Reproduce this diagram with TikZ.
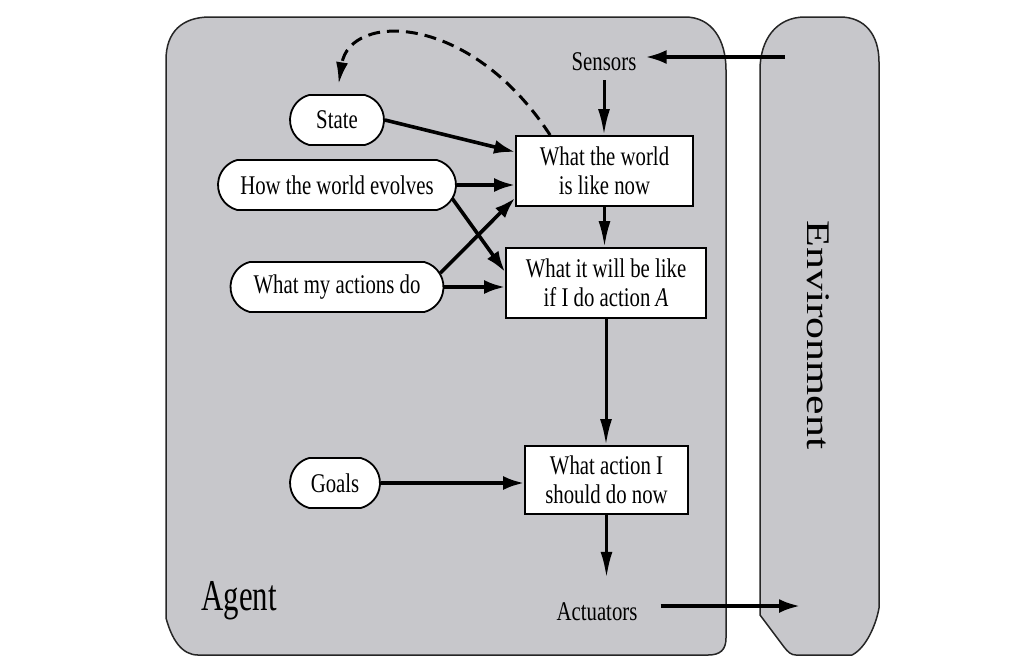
\documentclass[tikz,border=0pt]{standalone}
\usepackage{fontspec}
\setmainfont{Liberation Serif}[FakeStretch=0.77]
\newfontfamily\envfont{Liberation Serif}[FakeStretch=1.33]
\newfontfamily\agentfont{Liberation Serif}[FakeStretch=0.7]
\usetikzlibrary{arrows.meta,shapes.misc,calc}
\definecolor{panel}{RGB}{199,199,203}
\begin{document}
\begin{tikzpicture}[x=1pt,y=-1pt,
  arr/.style={line width=3.6pt,-{Latex[length=21pt,width=14pt]}},
  varr/.style={line width=3pt,-{Latex[length=26pt,width=12pt]}},
  panelshape/.style={fill=panel,draw=black!85,line width=1.5pt},
  txt/.style={font=\fontsize{27}{29}\selectfont},
  boxnode/.style={txt,draw,fill=white,line width=1.8pt,align=center,inner sep=0pt},
  pill/.style={txt,rounded rectangle,rounded rectangle arc length=150,draw,fill=white,line width=1.8pt,minimum height=50pt,inner sep=0pt},
  lbl/.style={txt,inner sep=3pt}]
\useasboundingbox[fill=white] (0,0) rectangle (1024,665);
% panels
\path[panelshape] (166,60) .. controls (166,32) and (182,17) .. (210,17) -- (685,17)
  .. controls (712,17) and (726,40) .. (726,70) -- (726,638)
  .. controls (726,650) and (720,655) .. (708,655) -- (198,655)
  .. controls (182,655) and (172,640) .. (166,618) -- cycle;
\path[panelshape] (760,70) .. controls (760,40) and (776,17) .. (805,17) -- (840,17)
  .. controls (865,17) and (879,35) .. (879,62) -- (879,608)
  .. controls (876,625) and (866,648) .. (852,655) -- (796,655)
  .. controls (791,655) and (788,652) .. (784,647) -- (760,615) -- cycle;
% nodes
\node[boxnode,minimum width=177pt,minimum height=70pt] (world) at (604.5,171) {What the world\\is like now};
\node[boxnode,minimum width=200pt,minimum height=70pt] (will) at (606,283) {What it will be like\\if I do action \textit{A}};
\node[boxnode,minimum width=163pt,minimum height=68pt] (action) at (606.5,480) {What action I\\should do now};
\node[pill,minimum width=94pt] (state) at (337,120) {State};
\node[pill,minimum width=238pt] (hwe) at (337,185) {How the world evolves};
\node[pill,minimum width=213pt] (wmad) at (337,287) {What my actions do};
\node[pill,minimum width=90pt] (goals) at (335,483) {Goals};
\node[lbl] (sensors) at (604,62) {Sensors};
\node[lbl] (act) at (597,612) {Actuators};
\node[font=\agentfont\fontsize{44}{48}\selectfont] (agent) at (239,601) {Agent};
\node[font=\envfont\fontsize{33}{36}\selectfont,rotate=-90] (env) at (818,335) {Environment};
\coordinate (envS) at (785,57);
\coordinate (envA) at (800,606);
% connectors
\draw[arr,shorten >=6pt] (envS) -- (envS -| sensors.east);
\draw[varr,shorten <=6pt] (sensors.south) -- (sensors.south |- world.north);
\draw[arr] (state.east) -- ([yshift=19pt]world.west);
\draw[arr] (hwe.east) -- (hwe.east -| world.west);
\draw[arr] ([xshift=-5pt,yshift=-13pt]hwe.east) -- ([yshift=11pt]will.west);
\draw[arr] (wmad.east) -- (wmad.east -| will.west);
\draw[arr] ([xshift=-4pt,yshift=14pt]wmad.east) -- ([yshift=-27pt]world.west);
\draw[varr] (world.south) -- (world.south |- will.north);
\draw[varr] (will.south) -- (will.south |- action.north);
\draw[arr] (goals.east) -- (goals.east -| action.west);
\draw[varr,shorten >=22pt] (action.south) -- (action.south |- act.north);
\draw[arr,shorten <=20pt] (envA -| act.east) -- (envA);
\draw[line width=3pt,dash pattern=on 12pt off 7pt,-{Latex[length=22pt,width=12pt]},shorten >=10pt]
  ([xshift=35pt]world.north west) .. controls (470,12) and (350,12) .. (state.north);
\end{tikzpicture}
\end{document}
